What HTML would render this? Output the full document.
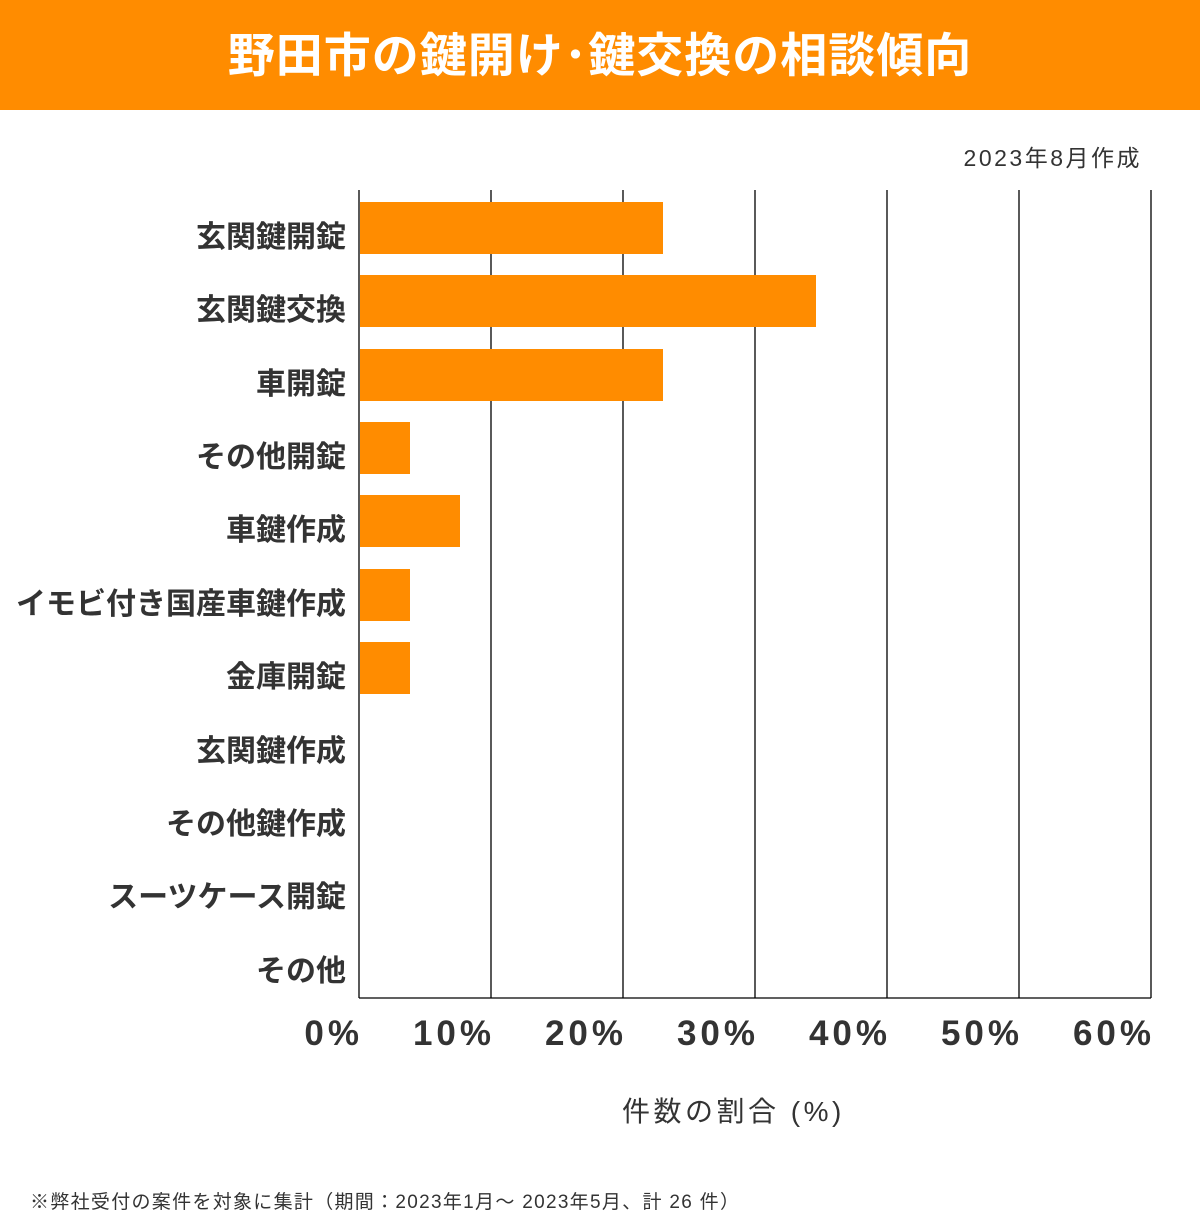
<!DOCTYPE html>
<html><head><meta charset="utf-8"><style>
body{margin:0;width:1200px;height:1219px;background:#fff;position:relative;overflow:hidden;font-family:"Liberation Sans","Noto Sans CJK JP",sans-serif;color:#333}
.hdr{position:absolute;left:0;top:0;width:1200px;height:110px;background:#ff8c00;color:#fff;font-weight:bold;font-size:47px;text-align:center;line-height:112px;letter-spacing:1px}
.t{position:absolute;white-space:nowrap}
.cat{position:absolute;right:854px;font-size:30px;font-weight:bold;white-space:nowrap;transform:translateY(-50%)}
.tick{position:absolute;top:1014px;font-size:35px;font-weight:bold;white-space:nowrap;transform:translateX(-100%);letter-spacing:4px;margin-left:4px}
</style></head><body>
<div class="hdr">野田市の鍵開け･鍵交換の相談傾向</div>
<div class="t" style="right:58px;top:139px;font-size:23px;letter-spacing:2.5px">2023年8月作成</div>
<svg style="position:absolute;left:0;top:0" width="1200" height="1219">
<g stroke="#000" stroke-width="1.3">
<line x1="359" y1="190" x2="359" y2="998"/>
<line x1="491" y1="190" x2="491" y2="998"/>
<line x1="623" y1="190" x2="623" y2="998"/>
<line x1="755" y1="190" x2="755" y2="998"/>
<line x1="887" y1="190" x2="887" y2="998"/>
<line x1="1019" y1="190" x2="1019" y2="998"/>
<line x1="1151" y1="190" x2="1151" y2="998"/>
<line x1="359" y1="998" x2="1151" y2="998"/>
</g>
<g fill="#ff8c00">
<rect x="360" y="202" width="303" height="52"/>
<rect x="360" y="275" width="456" height="52"/>
<rect x="360" y="349" width="303" height="52"/>
<rect x="360" y="422" width="50" height="52"/>
<rect x="360" y="495" width="100" height="52"/>
<rect x="360" y="569" width="50" height="52"/>
<rect x="360" y="642" width="50" height="52"/>
</g>
</svg>
<div class="cat" style="top:234px">玄関鍵開錠</div>
<div class="cat" style="top:307px">玄関鍵交換</div>
<div class="cat" style="top:381px">車開錠</div>
<div class="cat" style="top:454px">その他開錠</div>
<div class="cat" style="top:527px">車鍵作成</div>
<div class="cat" style="top:601px">イモビ付き国産車鍵作成</div>
<div class="cat" style="top:674px">金庫開錠</div>
<div class="cat" style="top:748px">玄関鍵作成</div>
<div class="cat" style="top:821px">その他鍵作成</div>
<div class="cat" style="top:894px">スーツケース開錠</div>
<div class="cat" style="top:968px">その他</div>
<div class="tick" style="left:359px">0%</div>
<div class="tick" style="left:491px">10%</div>
<div class="tick" style="left:623px">20%</div>
<div class="tick" style="left:755px">30%</div>
<div class="tick" style="left:887px">40%</div>
<div class="tick" style="left:1019px">50%</div>
<div class="tick" style="left:1151px">60%</div>
<div class="t" style="left:622px;top:1090px;font-size:28px;letter-spacing:3.5px">件数の割合 (%)</div>
<div class="t" style="left:30px;top:1187px;font-size:19px;letter-spacing:1.3px">※弊社受付の案件を対象に集計（期間：2023年1月～ 2023年5月、計 26 件）</div>
</body></html>
